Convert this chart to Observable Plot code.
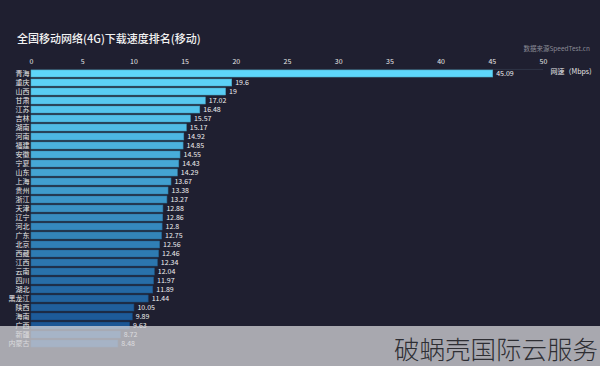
<!DOCTYPE html>
<html>
<head>
<meta charset="utf-8">
<script src="https://cdn.jsdelivr.net/npm/d3@7"></script>
<script src="https://cdn.jsdelivr.net/npm/@observablehq/plot@0.6"></script>
<style>
  html, body { margin: 0; padding: 0; background: #1f1f30; }
  #wrap { position: relative; width: 600px; height: 366px; overflow: hidden; background: #1f1f30; font-family: "Noto Sans CJK SC", "Noto Sans", sans-serif; }
  #title { position: absolute; left: 17px; top: 30px; color: #f2f2f2; font-size: 11px; font-weight: 500; white-space: nowrap; }
  #source { position: absolute; right: 10px; top: 43px; color: #8a8a96; font-size: 6.5px; white-space: nowrap; }
  #chart { position: absolute; left: 0; top: 0; }
  #overlay { position: absolute; left: 0; top: 326px; width: 600px; height: 40px; background: rgba(212, 212, 216, 0.76); }
  #wm { position: absolute; right: 2px; top: 329px; color: #2e2e33; font-size: 25.5px; font-family: "Noto Sans CJK SC", sans-serif; font-weight: 300; white-space: nowrap; }
</style>
</head>
<body>
<div id="wrap">
  <div id="chart"></div>
  <div id="title">全国移动网络(4G)下载速度排名(移动)</div>
  <div id="source">数据来源SpeedTest.cn</div>
  <div id="overlay"></div>
  <div id="wm">破蜗壳国际云服务</div>
</div>
<script>
const provinces = ["青海","重庆","山西","甘肃","江苏","吉林","湖南","河南","福建","安徽","宁夏","山东","上海","贵州","浙江","天津","辽宁","河北","广东","北京","西藏","江西","云南","四川","湖北","黑龙江","陕西","海南","广西","新疆","内蒙古"];
const speeds = [45.09,19.6,19,17.02,16.48,15.57,15.17,14.92,14.85,14.55,14.43,14.29,13.67,13.38,13.27,12.88,12.86,12.8,12.75,12.56,12.46,12.34,12.04,11.97,11.89,11.44,10.05,9.89,9.63,8.72,8.48];
const xTicks = [0,5,10,15,20,25,30,35,40,45,50];
const axisLabel = "网速（Mbps)";

const data = provinces.map((p, i) => ({name: p, value: speeds[i], rank: i}));
const colorOf = d3.scaleLinear().domain([0, provinces.length - 1]).range(["#5ed6fa", "#164d8e"]).interpolate(d3.interpolateRgb);

const chart = Plot.plot({
  width: 600,
  height: 366,
  marginLeft: 31,
  marginRight: 57,
  marginTop: 67,
  marginBottom: 15,
  style: {background: "transparent", color: "#e8e8e8", fontFamily: "'Noto Sans CJK SC', sans-serif", fontSize: "7px"},
  x: {domain: [0, 50], axis: "top", ticks: xTicks, tickSize: 0, tickPadding: 4, label: null},
  y: {domain: provinces, padding: 0.2, tickSize: 0, tickPadding: 2, label: null},
  marks: [
    Plot.ruleY([provinces[0]], {x1: 0, x2: 50, dy: -4.6, stroke: "#2e3446", strokeWidth: 1}),
    Plot.barX(data, {x: "value", y: "name", fill: d => colorOf(d.rank), stroke: d => d3.color(colorOf(d.rank)).darker(0.6).formatHex(), strokeWidth: 0.6}),
    Plot.text(data, {x: "value", y: "name", text: d => String(d.value), textAnchor: "start", dx: 3, fill: "#f0f0f0", fontSize: 7}),
    Plot.text([axisLabel], {frameAnchor: "top-right", dx: 7, dy: 2, textAnchor: "start", fill: "#e8e8e8", fontSize: 7})
  ]
});
document.getElementById("chart").appendChild(chart);
</script>
</body>
</html>
